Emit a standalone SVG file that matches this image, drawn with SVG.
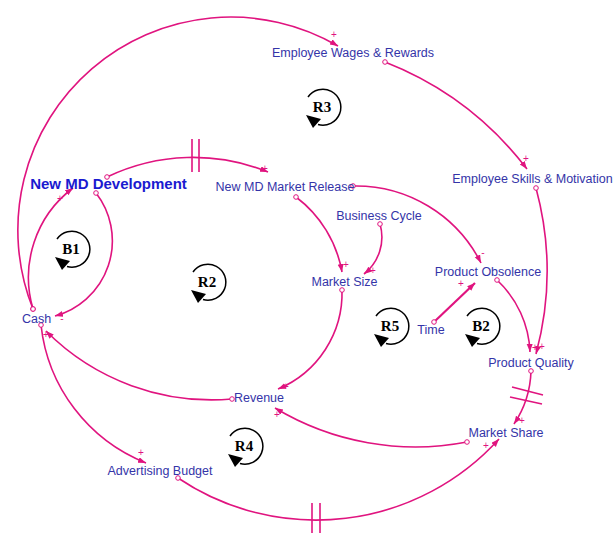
<svg xmlns="http://www.w3.org/2000/svg" width="614" height="533" viewBox="0 0 614 533">
<style>
.lnk{fill:none;stroke:#e0147f;stroke-width:1.6;marker-end:url(#ah);marker-start:url(#tc)}
.dl{stroke:#e0147f;stroke-width:1.6}
.lbl{font-family:"Liberation Sans",Arial,sans-serif;font-size:12.5px;fill:#3434a8;text-anchor:middle}
.big{font-family:"Liberation Sans",Arial,sans-serif;font-size:15px;font-weight:bold;fill:#1a1ad0;text-anchor:middle}
.pol{font-family:"Liberation Sans",Arial,sans-serif;font-size:10px;fill:#e0147f;text-anchor:middle}
.loop text{font-family:"Liberation Serif","Times New Roman",serif;font-size:15px;font-weight:bold;fill:#000;text-anchor:middle}
</style>
<defs>
<marker id="ah" markerUnits="userSpaceOnUse" markerWidth="9" markerHeight="7" refX="8" refY="3" orient="auto">
<path d="M0,0 L8,3 L0,6 z" fill="#e0147f"/>
</marker>
<marker id="tc" markerUnits="userSpaceOnUse" markerWidth="7" markerHeight="7" refX="3.5" refY="3.5">
<circle cx="3.5" cy="3.5" r="2.3" fill="#fff" stroke="#e0147f" stroke-width="1"/>
</marker>
<g id="loopsym">
<path d="M-14,-10 A18,18 0 1 1 -4,17.5" fill="none" stroke="#000" stroke-width="1.5"/>
<path d="M-16,8 L-1,12 L-9,21 z" fill="#000"/>
</g>
</defs>
<rect width="614" height="533" fill="#fff"/>
<g id="connectors">
<path class="lnk" d="M33,309 A213,213 0 0 1 338,46"/>
<path class="lnk" d="M33,309 A112,112 0 0 1 73,188"/>
<path class="lnk" d="M96,193 A78,78 0 0 1 55,316"/>
<path class="lnk" d="M107,177 A199,199 0 0 1 268,172"/>
<path class="lnk" d="M296,197 A120,120 0 0 1 342,272"/>
<path class="lnk" d="M380,224 A47,47 0 0 1 364,274"/>
<path class="lnk" d="M353,186 A140,140 0 0 1 481,263"/>
<path class="lnk" d="M385,62 A330,330 0 0 1 527,169"/>
<path class="lnk" d="M536,188 A319,319 0 0 1 536,354"/>
<path class="lnk" d="M497,280 A104,104 0 0 1 530,352"/>
<path class="lnk" d="M434,322 L475,283" style="stroke-width:2.2"/>
<path class="lnk" d="M531,371 A100,100 0 0 1 514,424"/>
<path class="lnk" d="M232,399 A234,234 0 0 1 46,331"/>
<path class="lnk" d="M41,325 A168,168 0 0 0 146,463"/>
<path class="lnk" d="M178,478 A247,247 0 0 0 499,439"/>
<path class="lnk" d="M467,442 A273,273 0 0 1 275,408"/>
<path class="lnk" d="M342,290 A104,104 0 0 1 278,389"/>
<line class="dl" x1="192" y1="139" x2="192" y2="172"/>
<line class="dl" x1="199" y1="139" x2="199" y2="172"/>
<line class="dl" x1="512" y1="387" x2="543" y2="395"/>
<line class="dl" x1="510" y1="397" x2="542" y2="404"/>
<line class="dl" x1="312" y1="503" x2="312" y2="533"/>
<line class="dl" x1="320" y1="503" x2="320" y2="533"/>
<text class="pol" x="60" y="202">+</text>
<text class="pol" x="334" y="38">+</text>
<text class="pol" x="62" y="322">-</text>
<text class="pol" x="265" y="172">+</text>
<text class="pol" x="346" y="268">+</text>
<text class="pol" x="373" y="274">+</text>
<text class="pol" x="483" y="256">-</text>
<text class="pol" x="526" y="162">+</text>
<text class="pol" x="542" y="350">+</text>
<text class="pol" x="535" y="351">+</text>
<text class="pol" x="461" y="287">+</text>
<text class="pol" x="522" y="424">+</text>
<text class="pol" x="46" y="338">+</text>
<text class="pol" x="141" y="456">+</text>
<text class="pol" x="486" y="449">+</text>
<text class="pol" x="277" y="418">+</text>
<text class="pol" x="286" y="390">+</text>
</g>
<g id="employee-wages"><text class="lbl" x="353" y="57">Employee Wages &amp; Rewards</text></g>
<g id="new-md-development"><text class="big" x="108.5" y="189">New MD Development</text></g>
<g id="new-md-market-release"><text class="lbl" x="285" y="191">New MD Market Release</text></g>
<g id="employee-skills"><text class="lbl" x="532.5" y="183">Employee Skills &amp; Motivation</text></g>
<g id="business-cycle"><text class="lbl" x="379" y="220">Business Cycle</text></g>
<g id="product-obsolence"><text class="lbl" x="488" y="276">Product Obsolence</text></g>
<g id="market-size"><text class="lbl" x="344.5" y="286">Market Size</text></g>
<g id="cash"><text class="lbl" x="36.5" y="323">Cash</text></g>
<g id="time"><text class="lbl" x="431" y="334">Time</text></g>
<g id="product-quality"><text class="lbl" x="531" y="367">Product Quality</text></g>
<g id="revenue"><text class="lbl" x="259" y="402">Revenue</text></g>
<g id="market-share"><text class="lbl" x="506" y="437">Market Share</text></g>
<g id="advertising-budget"><text class="lbl" x="160" y="475">Advertising Budget</text></g>
<g id="loop-R3" class="loop" transform="translate(322,107)"><use href="#loopsym"/><text x="0" y="5">R3</text></g>
<g id="loop-B1" class="loop" transform="translate(71,249)"><use href="#loopsym"/><text x="0" y="5">B1</text></g>
<g id="loop-R2" class="loop" transform="translate(207,282)"><use href="#loopsym"/><text x="0" y="5">R2</text></g>
<g id="loop-R5" class="loop" transform="translate(390,326)"><use href="#loopsym"/><text x="0" y="5">R5</text></g>
<g id="loop-B2" class="loop" transform="translate(481,326)"><use href="#loopsym"/><text x="0" y="5">B2</text></g>
<g id="loop-R4" class="loop" transform="translate(244,446)"><use href="#loopsym"/><text x="0" y="5">R4</text></g>
</svg>
